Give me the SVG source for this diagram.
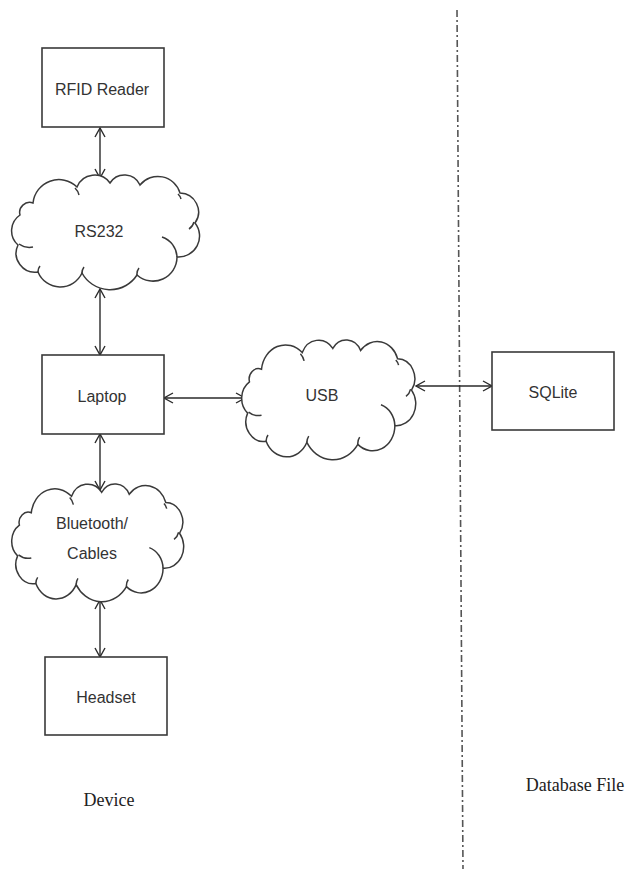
<svg xmlns="http://www.w3.org/2000/svg" xmlns:xlink="http://www.w3.org/1999/xlink" width="631" height="869" viewBox="0 0 631 869">
  <style>
    .box { fill: #ffffff; stroke: #3a3a3a; stroke-width: 1.6; }
    .cloud { fill: #ffffff; stroke: #3a3a3a; stroke-width: 1.5; vector-effect: non-scaling-stroke; }
    .hook { fill: none; stroke: #3a3a3a; stroke-width: 1.5; vector-effect: non-scaling-stroke; }
    .lbl { font-family: "Liberation Sans", Arial, sans-serif; font-size: 16px; fill: #333333; text-anchor: middle; }
    .cap { font-family: "Liberation Serif", "Times New Roman", serif; font-size: 18px; fill: #222222; text-anchor: middle; }
    .conn { stroke: #2a2a2a; stroke-width: 1.4; fill: none; marker-start: url(#ah); marker-end: url(#ah); }
    .divider { stroke: #555555; stroke-width: 1.6; stroke-dasharray: 7 3 2 3; fill: none; }
  </style>
  <defs>
    <marker id="ah" viewBox="0 0 12 12" refX="11" refY="6" markerWidth="12" markerHeight="12" markerUnits="userSpaceOnUse" orient="auto-start-reverse">
      <path d="M2,1 L11,6 L2,11" fill="none" stroke="#2a2a2a" stroke-width="1.4"/>
    </marker>
    <g id="cloudShape">
      <path class="cloud" d="M20,30 A26,26 0 0 1 64,14 A19,19 0 0 1 97,10 A17,17 0 0 1 127,12 A23,23 0 0 1 167,20 A19,19 0 0 1 182,50 A21,21 0 0 1 164,84 A24,24 0 0 1 124,102 A32,32 0 0 1 69,100 A24,24 0 0 1 25,99 A19,19 0 0 1 5,72 A19,19 0 0 1 7,42 A10,10 0 0 1 20,30 Z"/>
      <path class="hook" d="M62,15 A14,14 0 0 1 66,22 M165,21 A10,10 0 0 1 168,26 M181,49 A12,12 0 0 1 176,56 M149,64 A22,22 0 0 1 164,84 M124,102 A10,10 0 0 1 126,95 M69,100 A10,10 0 0 1 71,94 M25,99 A9,9 0 0 1 27,93 M6,71 A18,18 0 0 0 20,74"/>
    </g>
  </defs>
  <rect width="631" height="869" fill="#ffffff"/>

  <line class="divider" x1="457" y1="10" x2="463" y2="869"/>

  <g id="connectors">
    <line class="conn" x1="100" y1="128" x2="100" y2="178"/>
    <line class="conn" x1="100" y1="289" x2="100" y2="355"/>
    <line class="conn" x1="100" y1="434" x2="100" y2="490"/>
    <line class="conn" x1="100" y1="600" x2="100" y2="657"/>
    <line class="conn" x1="164" y1="398" x2="245" y2="398"/>
    <line class="conn" x1="416" y1="386" x2="492" y2="386"/>
  </g>

  <g id="rfid">
    <rect class="box" x="42" y="48" width="122" height="79"/>
    <text class="lbl" x="102" y="95">RFID Reader</text>
  </g>
  <g id="rs232">
    <use xlink:href="#cloudShape" href="#cloudShape" transform="translate(13,173)"/>
    <text class="lbl" x="99" y="237">RS232</text>
  </g>
  <g id="laptop">
    <rect class="box" x="42" y="355" width="122" height="79"/>
    <text class="lbl" x="102" y="402">Laptop</text>
  </g>
  <g id="usb">
    <use xlink:href="#cloudShape" href="#cloudShape" transform="translate(243,338) scale(0.926,1.043)"/>
    <text class="lbl" x="322" y="401">USB</text>
  </g>
  <g id="sqlite">
    <rect class="box" x="492" y="352" width="122" height="78"/>
    <text class="lbl" x="553" y="398">SQLite</text>
  </g>
  <g id="bluetooth">
    <use xlink:href="#cloudShape" href="#cloudShape" transform="translate(13,482) scale(0.915,1.026)"/>
    <text class="lbl" x="92" y="529">Bluetooth/</text>
    <text class="lbl" x="92" y="559">Cables</text>
  </g>
  <g id="headset">
    <rect class="box" x="45" y="657" width="122" height="78"/>
    <text class="lbl" x="106" y="703">Headset</text>
  </g>

  <g id="captions">
    <text class="cap" x="109" y="806">Device</text>
    <text class="cap" x="575" y="791">Database File</text>
  </g>
</svg>
